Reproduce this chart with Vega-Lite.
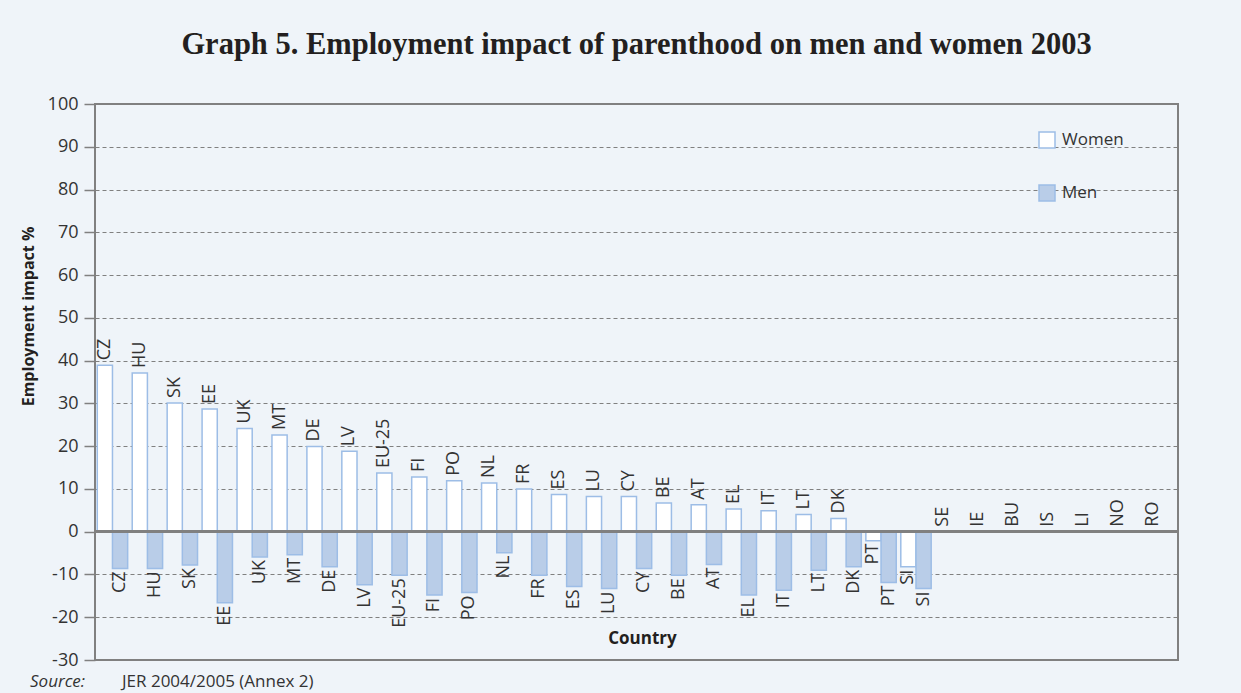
{
  "$schema": "https://vega.github.io/schema/vega-lite/v6.json",
  "width": 1083,
  "height": 556,
  "autosize": {"type": "none"},
  "padding": {"left": 95, "top": 104, "right": 63, "bottom": 33},
  "background": "#eff4f9",
  "config": {"view": {"stroke": "#808080", "strokeWidth": 2}, "font": "Open Sans"},
  "title": {"text": "Graph 5. Employment impact of parenthood on men and women 2003", "font": "Liberation Serif", "fontSize": 30.5, "fontWeight": "bold", "color": "#231f20", "anchor": "middle", "offset": 35},
  "data": {"values": [
    {"country": "CZ", "series": "Women", "value": 38.9}, {"country": "CZ", "series": "Men", "value": -8.6},
    {"country": "HU", "series": "Women", "value": 37.1}, {"country": "HU", "series": "Men", "value": -8.6},
    {"country": "SK", "series": "Women", "value": 30.1}, {"country": "SK", "series": "Men", "value": -7.8},
    {"country": "EE", "series": "Women", "value": 28.7}, {"country": "EE", "series": "Men", "value": -16.6},
    {"country": "UK", "series": "Women", "value": 24.1}, {"country": "UK", "series": "Men", "value": -5.9},
    {"country": "MT", "series": "Women", "value": 22.6}, {"country": "MT", "series": "Men", "value": -5.4},
    {"country": "DE", "series": "Women", "value": 19.9}, {"country": "DE", "series": "Men", "value": -8.2},
    {"country": "LV", "series": "Women", "value": 18.8}, {"country": "LV", "series": "Men", "value": -12.4},
    {"country": "EU-25", "series": "Women", "value": 13.7}, {"country": "EU-25", "series": "Men", "value": -10.2},
    {"country": "FI", "series": "Women", "value": 12.8}, {"country": "FI", "series": "Men", "value": -14.8},
    {"country": "PO", "series": "Women", "value": 11.9}, {"country": "PO", "series": "Men", "value": -14.2},
    {"country": "NL", "series": "Women", "value": 11.4}, {"country": "NL", "series": "Men", "value": -4.9},
    {"country": "FR", "series": "Women", "value": 10.0}, {"country": "FR", "series": "Men", "value": -10.2},
    {"country": "ES", "series": "Women", "value": 8.7}, {"country": "ES", "series": "Men", "value": -12.8},
    {"country": "LU", "series": "Women", "value": 8.2}, {"country": "LU", "series": "Men", "value": -13.3},
    {"country": "CY", "series": "Women", "value": 8.2}, {"country": "CY", "series": "Men", "value": -8.6},
    {"country": "BE", "series": "Women", "value": 6.7}, {"country": "BE", "series": "Men", "value": -10.2},
    {"country": "AT", "series": "Women", "value": 6.3}, {"country": "AT", "series": "Men", "value": -7.7},
    {"country": "EL", "series": "Women", "value": 5.3}, {"country": "EL", "series": "Men", "value": -14.8},
    {"country": "IT", "series": "Women", "value": 4.9}, {"country": "IT", "series": "Men", "value": -13.7},
    {"country": "LT", "series": "Women", "value": 4.0}, {"country": "LT", "series": "Men", "value": -9.0},
    {"country": "DK", "series": "Women", "value": 3.1}, {"country": "DK", "series": "Men", "value": -8.2},
    {"country": "PT", "series": "Women", "value": -2.1}, {"country": "PT", "series": "Men", "value": -11.9},
    {"country": "SI", "series": "Women", "value": -8.2}, {"country": "SI", "series": "Men", "value": -13.3},
    {"country": "SE", "series": "Women", "value": 0},
    {"country": "IE", "series": "Women", "value": 0},
    {"country": "BU", "series": "Women", "value": 0},
    {"country": "IS", "series": "Women", "value": 0},
    {"country": "LI", "series": "Women", "value": 0},
    {"country": "NO", "series": "Women", "value": 0},
    {"country": "RO", "series": "Women", "value": 0}
  ]},
  "layer": [
    {
      "transform": [{"filter": "datum.value != 0"}],
      "mark": {"type": "bar", "stroke": "#9dbde6", "strokeWidth": 1.5},
      "encoding": {
        "x": {"field": "country", "type": "nominal", "sort": null, "title": "Country",
          "scale": {"paddingInner": 0, "paddingOuter": 0},
          "axis": {"labels": false, "ticks": false, "domain": false, "grid": false, "title": "Country", "titleFont": "Open Sans", "titleFontSize": 17, "titleFontWeight": "bold", "titleColor": "#231f20", "titleX": 547, "titleY": -22, "titleBaseline": "middle", "titleAlign": "center", "titleAnchor": null}},
        "xOffset": {"field": "series", "type": "nominal", "sort": ["Women", "Men"], "scale": {"domain": ["Women", "Men"], "paddingInner": 0, "paddingOuter": 0.15}},
        "y": {"field": "value", "type": "quantitative", "title": "Employment impact %",
          "scale": {"domain": [-30, 100], "nice": false, "zero": false},
          "axis": {"values": [-30, -20, -10, 0, 10, 20, 30, 40, 50, 60, 70, 80, 90, 100], "grid": true, "gridDash": [4, 3], "gridColor": "#808080", "gridWidth": 1.2, "domain": false, "tickColor": "#808080", "tickSize": 11, "tickWidth": 1.5, "labelFont": "Open Sans", "labelFontSize": 18, "labelColor": "#333333", "labelPadding": 6, "labelExpr": "replace(datum.label, '−', '-')", "title": "Employment impact %", "titleFont": "Open Sans", "titleFontSize": 16, "titleFontWeight": "bold", "titleColor": "#231f20", "titleX": -67, "titleY": 212, "titleAngle": 270, "titleAlign": "center", "titleBaseline": "middle"}},
        "fill": {"field": "series", "type": "nominal", "sort": ["Women", "Men"],
          "scale": {"domain": ["Women", "Men"], "range": ["#ffffff", "#b9cde8"]},
          "legend": {"orient": "none", "legendX": 943, "legendY": 27, "title": null, "direction": "vertical", "symbolType": "square", "symbolSize": 256, "symbolStrokeColor": "#9dbde6", "symbolStrokeWidth": 1.5, "labelFont": "Open Sans", "labelFontSize": 17, "labelColor": "#333333", "rowPadding": 31, "labelOffset": 6}}
      }
    },
    {
      "mark": {"type": "rule", "color": "#808080", "strokeWidth": 2},
      "encoding": {"y": {"datum": 0, "type": "quantitative"}}
    },
    {
      "transform": [{"filter": "datum.value >= 0"}],
      "mark": {"type": "text", "angle": 270, "align": "left", "baseline": "middle", "dx": 5, "font": "Open Sans", "fontSize": 18, "color": "#333333"},
      "encoding": {
        "x": {"field": "country", "type": "nominal", "sort": null, "title": "Country"},
        "xOffset": {"field": "series", "type": "nominal", "sort": ["Women", "Men"]},
        "y": {"field": "value", "type": "quantitative", "title": "Employment impact %"},
        "text": {"field": "country"}
      }
    },
    {
      "transform": [{"filter": "datum.value < 0"}],
      "mark": {"type": "text", "angle": 270, "align": "right", "baseline": "middle", "dx": -3, "font": "Open Sans", "fontSize": 18, "color": "#333333"},
      "encoding": {
        "x": {"field": "country", "type": "nominal", "sort": null, "title": "Country"},
        "xOffset": {"field": "series", "type": "nominal", "sort": ["Women", "Men"]},
        "y": {"field": "value", "type": "quantitative", "title": "Employment impact %"},
        "text": {"field": "country"}
      }
    },
    {
      "data": {"values": [{"note": "Source:"}]},
      "mark": {"type": "text", "align": "left", "baseline": "middle", "dx": -65, "font": "Open Sans", "fontSize": 17, "fontStyle": "italic", "color": "#333333"},
      "encoding": {"x": {"datum": "CZ", "type": "nominal", "bandPosition": 0}, "y": {"datum": -35.1, "type": "quantitative"}, "text": {"field": "note"}}
    },
    {
      "data": {"values": [{"note": "JER 2004/2005 (Annex 2)"}]},
      "mark": {"type": "text", "align": "left", "baseline": "middle", "dx": 27, "font": "Open Sans", "fontSize": 17, "color": "#333333"},
      "encoding": {"x": {"datum": "CZ", "type": "nominal", "bandPosition": 0}, "y": {"datum": -35.1, "type": "quantitative"}, "text": {"field": "note"}}
    }
  ]
}
